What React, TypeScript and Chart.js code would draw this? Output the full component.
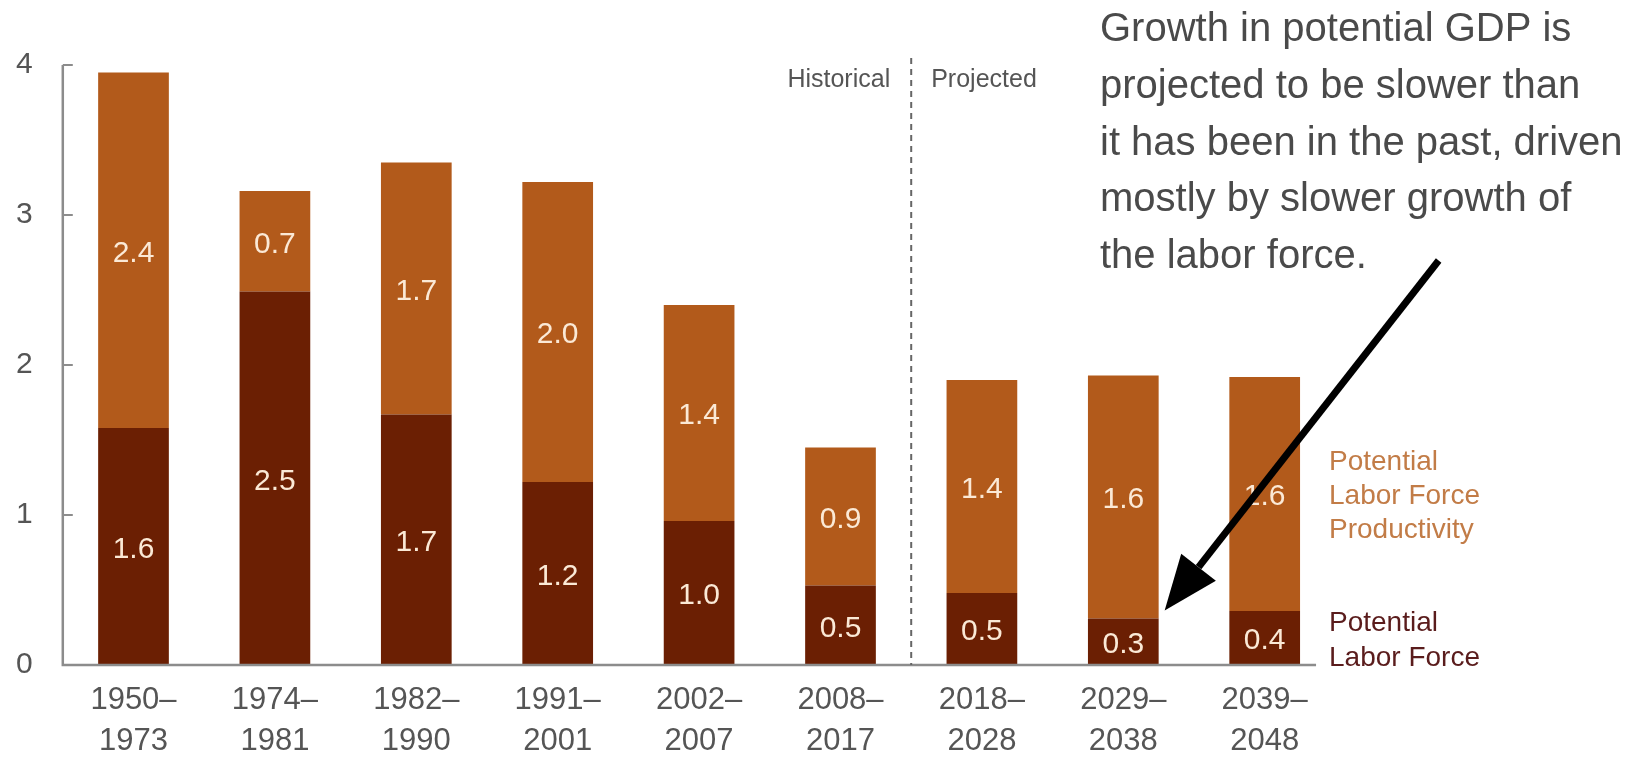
import React, { useEffect, useRef } from "react";
import { Chart, registerables } from "chart.js";

Chart.register(...registerables);

const categories: string[][] = [
  ["1950–", "1973"],
  ["1974–", "1981"],
  ["1982–", "1990"],
  ["1991–", "2001"],
  ["2002–", "2007"],
  ["2008–", "2017"],
  ["2018–", "2028"],
  ["2029–", "2038"],
  ["2039–", "2048"],
];
const laborForce = [1.58, 2.49, 1.67, 1.22, 0.96, 0.53, 0.48, 0.31, 0.36];
const productivity = [2.37, 0.67, 1.68, 2.0, 1.44, 0.92, 1.42, 1.62, 1.56];
const yTicks = [0, 1, 2, 3, 4];
const annotationLines = [
  "Growth in potential GDP is",
  "projected to be slower than",
  "it has been in the past, driven",
  "mostly by slower growth of",
  "the labor force.",
];
const legendProductivity = ["Potential", "Labor Force", "Productivity"];
const legendLabor = ["Potential", "Labor Force"];

const FONT = '"Liberation Sans", Arial, sans-serif';
const ORANGE = "#b25a1b";
const DARK = "#6b1f03";
const GRAY_TEXT = "#555555";
const AXIS = "#8c8c8c";

const decorPlugin = {
  id: "decor",
  afterDatasetsDraw(chart: any) {
    const ctx = chart.ctx;
    const xs = chart.scales.x;
    const ys = chart.scales.y;
    const area = chart.chartArea;

    // bar value labels
    ctx.save();
    ctx.font = `30px ${FONT}`;
    ctx.fillStyle = "#fbe9d6";
    ctx.textAlign = "center";
    ctx.textBaseline = "middle";
    chart.data.datasets.forEach((ds: any, di: number) => {
      const meta = chart.getDatasetMeta(di);
      meta.data.forEach((el: any, i: number) => {
        const v = ds.data[i] as number;
        ctx.fillText(v.toFixed(1), el.x, (el.y + el.base) / 2 + 3);
      });
    });
    ctx.restore();

    // axes lines
    const y0 = ys.getPixelForValue(0);
    const yTop = ys.getPixelForValue(4);
    const lastBar = chart.getDatasetMeta(0).data[categories.length - 1] as any;
    ctx.save();
    ctx.strokeStyle = AXIS;
    ctx.lineWidth = 2.5;
    ctx.beginPath();
    ctx.moveTo(area.left, yTop);
    ctx.lineTo(area.left, y0);
    ctx.lineTo(lastBar.x + lastBar.width / 2 + 16, y0);
    ctx.stroke();
    ctx.lineWidth = 2;
    yTicks.forEach((t) => {
      if (t === 0) return;
      const py = ys.getPixelForValue(t);
      ctx.beginPath();
      ctx.moveTo(area.left, py);
      ctx.lineTo(area.left + 10, py);
      ctx.stroke();
    });
    ctx.restore();

    // dashed separator
    const sepX = (xs.getPixelForValue(5) + xs.getPixelForValue(6)) / 2;
    ctx.save();
    ctx.strokeStyle = "#666666";
    ctx.lineWidth = 2;
    ctx.setLineDash([6, 5]);
    ctx.beginPath();
    ctx.moveTo(sepX, 58);
    ctx.lineTo(sepX, y0);
    ctx.stroke();
    ctx.restore();

    ctx.save();
    ctx.font = `25px ${FONT}`;
    ctx.fillStyle = GRAY_TEXT;
    ctx.textBaseline = "middle";
    ctx.textAlign = "right";
    ctx.fillText("Historical", sepX - 21, 80);
    ctx.textAlign = "left";
    ctx.fillText("Projected", sepX + 20, 80);
    ctx.restore();

    // annotation text
    ctx.save();
    ctx.font = `40px ${FONT}`;
    ctx.fillStyle = "#4a4a4a";
    ctx.textAlign = "left";
    ctx.textBaseline = "middle";
    annotationLines.forEach((l, i) => ctx.fillText(l, 1100, 30 + i * 56.8));
    ctx.restore();

    // legend
    ctx.save();
    ctx.font = `28px ${FONT}`;
    ctx.textAlign = "left";
    ctx.textBaseline = "middle";
    ctx.fillStyle = "#c27c47";
    legendProductivity.forEach((l, i) => ctx.fillText(l, 1329, 462 + i * 34));
    ctx.fillStyle = "#5a1c1c";
    legendLabor.forEach((l, i) => ctx.fillText(l, 1329, 623 + i * 35));
    ctx.restore();

    // arrow
    const bar8 = chart.getDatasetMeta(0).data[7] as any;
    const tipX = bar8.x + bar8.width / 2 + 6;
    const tipY = ys.getPixelForValue(laborForce[7]) - 8;
    const tailX = tipX + 274;
    const tailY = tipY - 350;
    const ang = Math.atan2(tipY - tailY, tipX - tailX);
    const headLen = 55;
    const headHalf = 22;
    const bx = tipX - headLen * Math.cos(ang);
    const by = tipY - headLen * Math.sin(ang);
    ctx.save();
    ctx.strokeStyle = "#000";
    ctx.fillStyle = "#000";
    ctx.lineWidth = 7;
    ctx.beginPath();
    ctx.moveTo(tailX, tailY);
    ctx.lineTo(bx, by);
    ctx.stroke();
    ctx.beginPath();
    ctx.moveTo(tipX, tipY);
    ctx.lineTo(bx + headHalf * Math.sin(ang), by - headHalf * Math.cos(ang));
    ctx.lineTo(bx - headHalf * Math.sin(ang), by + headHalf * Math.cos(ang));
    ctx.closePath();
    ctx.fill();
    ctx.restore();
  },
};

export default function App() {
  const ref = useRef<HTMLCanvasElement | null>(null);
  useEffect(() => {
    if (!ref.current) return;
    const chart = new Chart(ref.current, {
      type: "bar",
      data: {
        labels: categories,
        datasets: [
          {
            label: "Potential Labor Force",
            data: laborForce,
            backgroundColor: DARK,
            barPercentage: 0.5,
            categoryPercentage: 1,
          },
          {
            label: "Potential Labor Force Productivity",
            data: productivity,
            backgroundColor: ORANGE,
            barPercentage: 0.5,
            categoryPercentage: 1,
          },
        ],
      },
      options: {
        responsive: false,
        animation: false,
        layout: { padding: { left: 0, right: 301.6, top: 65, bottom: 0 } },
        plugins: {
          legend: { display: false },
          tooltip: { enabled: false },
          title: { display: false },
        },
        scales: {
          x: {
            stacked: true,
            grid: { display: false },
            border: { display: false },
            ticks: {
              color: GRAY_TEXT,
              font: { family: FONT, size: 31, lineHeight: 1.32 },
              padding: 7,
              autoSkip: false,
              maxRotation: 0,
            },
            afterFit: (s: any) => {
              s.height = 92;
            },
          },
          y: {
            stacked: true,
            min: 0,
            max: 4,
            grid: { display: false },
            border: { display: false },
            ticks: {
              stepSize: 1,
              color: GRAY_TEXT,
              font: { family: FONT, size: 30 },
              padding: 22,
            },
            afterFit: (s: any) => {
              s.width = 62.8;
            },
          },
        },
      },
      plugins: [decorPlugin],
    });
    return () => chart.destroy();
  }, []);
  return (
    <div style={{ position: "absolute", left: 0, top: 0, width: 1637, height: 757, background: "#fff" }}>
      <canvas ref={ref} width={1637} height={757} />
    </div>
  );
}
